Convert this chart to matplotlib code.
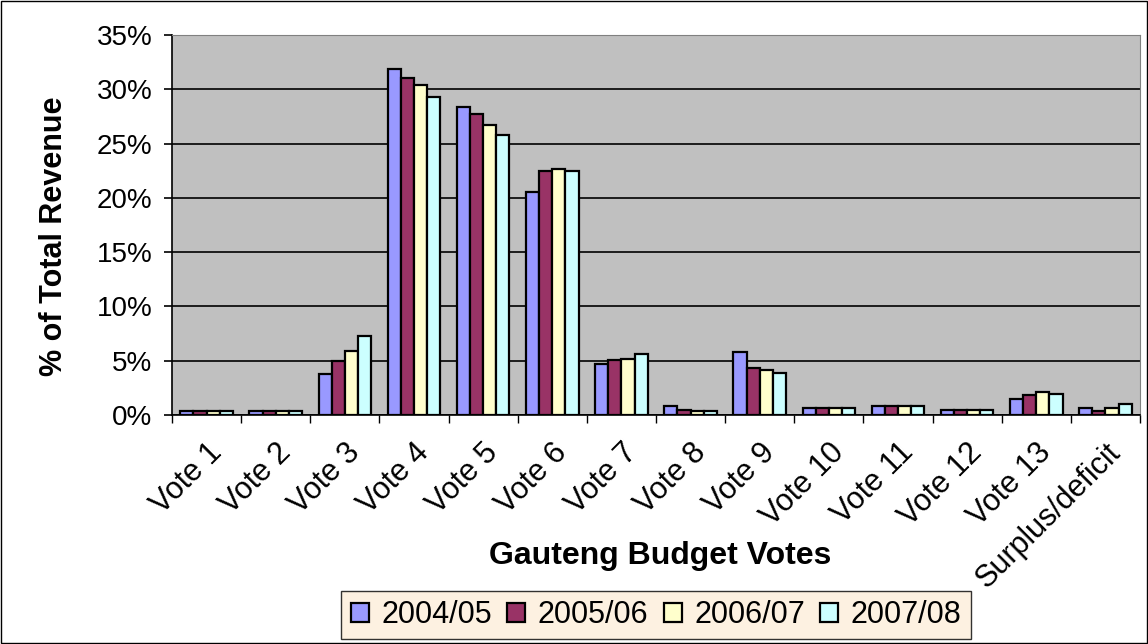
import numpy as np
import matplotlib
matplotlib.use("Agg")
import matplotlib.pyplot as plt
from matplotlib.patches import Rectangle

plt.rcParams['font.family'] = ['Liberation Sans', 'DejaVu Sans']

categories = ['Vote 1', 'Vote 2', 'Vote 3', 'Vote 4', 'Vote 5', 'Vote 6', 'Vote 7',
              'Vote 8', 'Vote 9', 'Vote 10', 'Vote 11', 'Vote 12', 'Vote 13',
              'Surplus/deficit']
years = ['2004/05', '2005/06', '2006/07', '2007/08']

# % of total revenue
v2004 = [0.4, 0.4, 3.8, 31.9, 28.4, 20.5, 4.7, 0.8, 5.8, 0.6, 0.8, 0.45, 1.5, 0.65]
v2005 = [0.4, 0.4, 5.0, 31.0, 27.7, 22.5, 5.05, 0.43, 4.3, 0.6, 0.8, 0.45, 1.8, 0.37]
v2006 = [0.4, 0.4, 5.9, 30.4, 26.7, 22.65, 5.2, 0.4, 4.1, 0.6, 0.8, 0.45, 2.1, 0.6]
v2007 = [0.4, 0.4, 7.25, 29.3, 25.8, 22.5, 5.6, 0.4, 3.9, 0.6, 0.8, 0.45, 1.9, 1.0]
colors = ['#9999FF', '#993366', '#FFFFCC', '#CCFFFF']

fig = plt.figure(figsize=(11.48, 6.44), dpi=100)
ax = fig.add_axes([172 / 1148, 1 - 415 / 644, (1140 - 172) / 1148, (415 - 35) / 644])
ax.set_facecolor('#C0C0C0')

x = np.arange(len(categories))
w = 0.19
for i, (vals, c, lab) in enumerate(zip([v2004, v2005, v2006, v2007], colors, years)):
    ax.bar(x + (i - 1.5) * w, vals, w, color=c, edgecolor='black', linewidth=1.6,
           label=lab, zorder=3)

ax.set_xlim(-0.5, len(categories) - 0.5)
ax.set_ylim(0, 35)
ax.set_yticks(np.arange(0, 36, 5))
ax.set_yticklabels([f'{t}%' for t in range(0, 36, 5)], fontsize=20)
ax.yaxis.grid(True, color='black', linewidth=1.2, zorder=1)
ax.tick_params(axis='y', length=6, width=1.2, pad=8)

ax.set_xticks(x)
ax.set_xticklabels(categories, rotation=45, ha='right', rotation_mode='anchor', fontsize=22)
ax.set_xticks(np.arange(-0.5, len(categories)), minor=True)
ax.tick_params(axis='x', which='major', length=0, pad=16)
ax.tick_params(axis='x', which='minor', length=6, width=1)

for s in ['top', 'right']:
    ax.spines[s].set_color('#808080')
for s in ['left', 'bottom']:
    ax.spines[s].set_color('black')
    ax.spines[s].set_linewidth(1.2)

fig.text(54 / 1148, 1 - 236 / 644, '% of Total Revenue', fontsize=22, fontweight='bold',
         rotation=90, ha='center', va='center')
fig.text(660 / 1148, 1 - 556 / 644, 'Gauteng Budget Votes',
         fontsize=23, fontweight='bold', ha='center', va='center')

leg = fig.legend(loc='center', bbox_to_anchor=(656 / 1148, 1 - 615 / 644),
                 ncol=4, fontsize=22, frameon=True, fancybox=False,
                 handlelength=0.6, handleheight=0.6, handletextpad=0.4,
                 columnspacing=0.5, borderpad=0.3)
leg.get_frame().set_facecolor('#FDEEDA')
leg.get_frame().set_edgecolor('black')
leg.get_frame().set_linewidth(1)

fig.patches.append(Rectangle((0.001, 0.001), 0.998, 0.998, transform=fig.transFigure,
                             fill=False, edgecolor='black', linewidth=1))

fig.savefig('out.png', dpi=100)
